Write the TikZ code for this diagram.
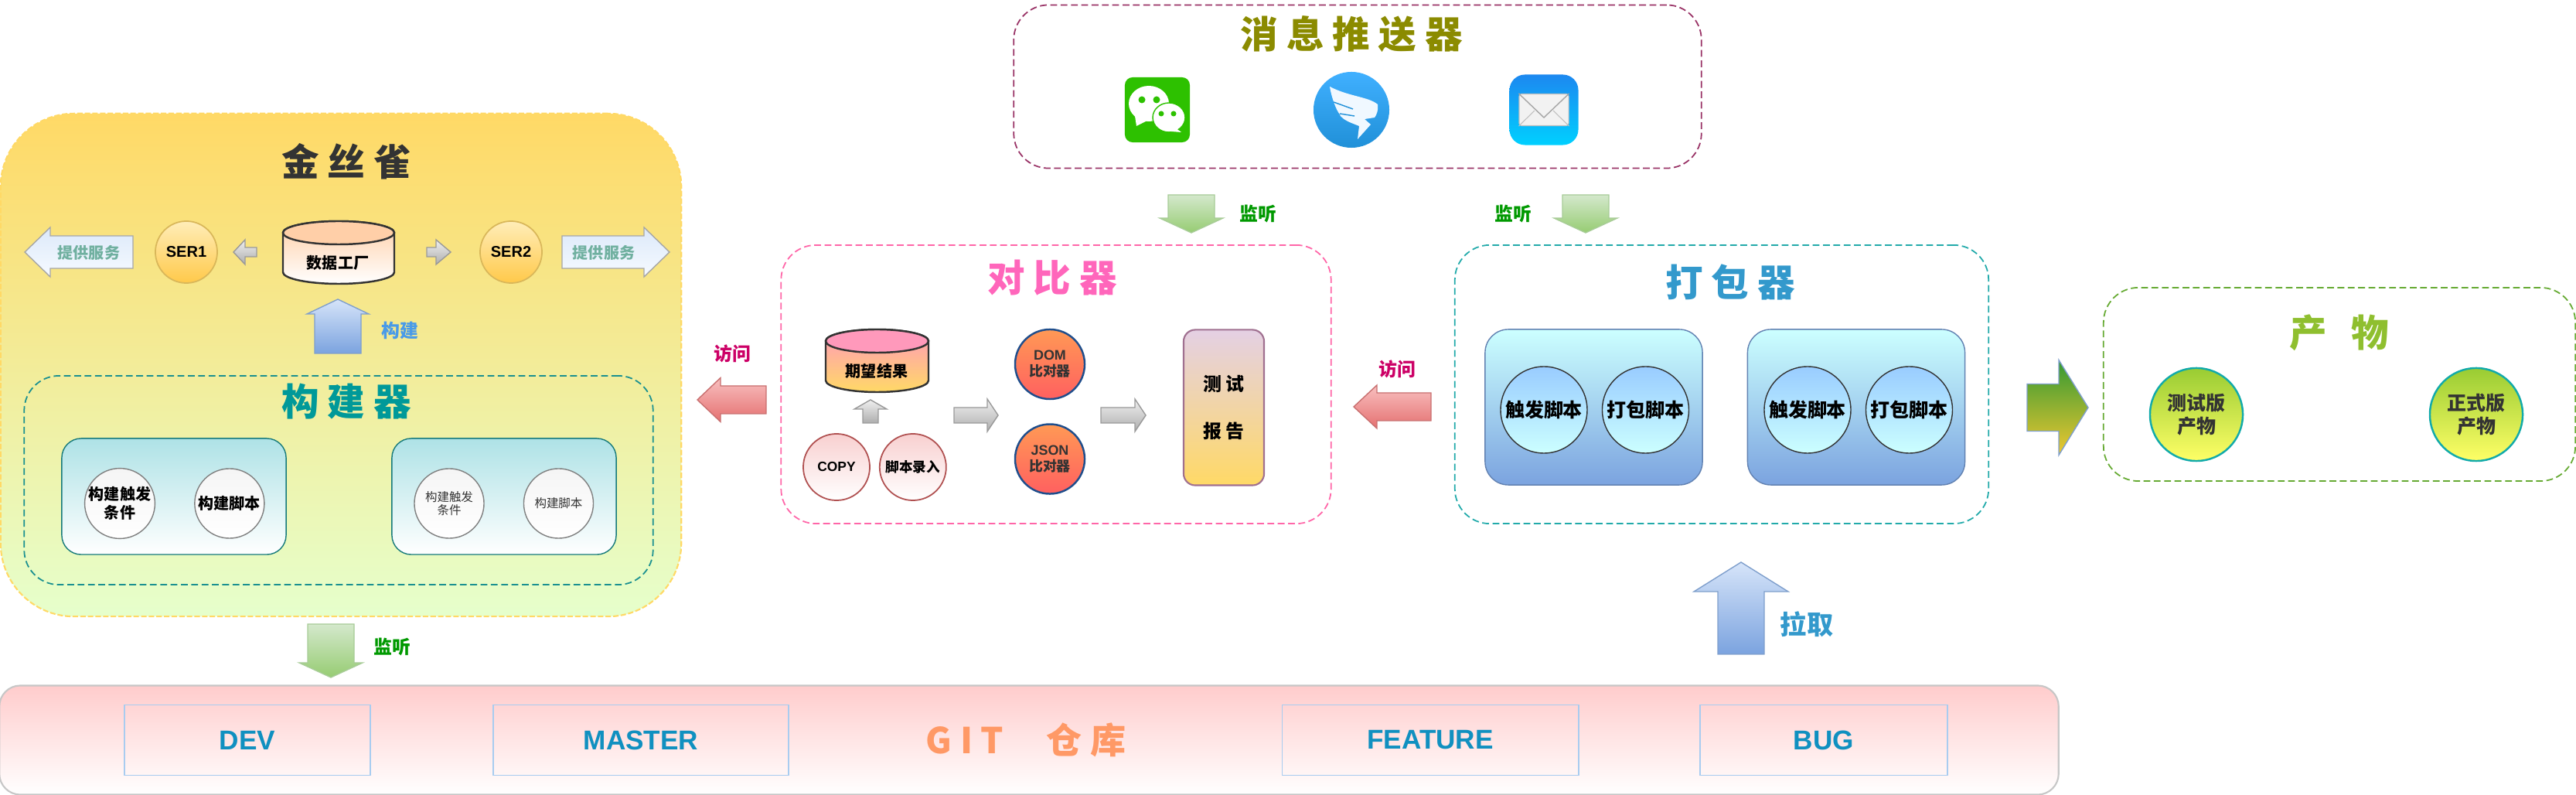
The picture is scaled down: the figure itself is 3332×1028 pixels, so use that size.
\documentclass[tikz,border=0pt]{standalone}
\usepackage{fontspec}
\setmainfont{Liberation Sans}
\newfontfamily\cjk{Noto Sans CJK SC}
\usepackage{xcolor}
\usetikzlibrary{positioning}
\definecolor{canaryLine}{HTML}{FFD966}
\definecolor{canaryTop}{HTML}{FFD966}
\definecolor{canaryBot}{HTML}{E6FFCC}
\definecolor{tealLine}{HTML}{1A9090}
\definecolor{tealText}{HTML}{009999}
\definecolor{pinkLine}{HTML}{FF66A8}
\definecolor{pinkText}{HTML}{FF66BB}
\definecolor{plumLine}{HTML}{993366}
\definecolor{oliveText}{HTML}{8B8B00}
\definecolor{packLine}{HTML}{22AAAA}
\definecolor{blueText}{HTML}{3399CC}
\definecolor{prodLine}{HTML}{66AA33}
\definecolor{prodText}{HTML}{8FBF2F}
\definecolor{monGreen}{HTML}{009900}
\definecolor{visitRed}{HTML}{CC0066}
\definecolor{branchText}{HTML}{1090C0}
\definecolor{gitOrange}{HTML}{FF9966}
\definecolor{textDark}{HTML}{333333}
\definecolor{svcText}{HTML}{70B0A0}
\definecolor{buildText}{HTML}{4A9BE8}
\definecolor{HTMLgold}{HTML}{D9B75A}
\definecolor{HTMLserA}{HTML}{FFEDB8}
\definecolor{HTMLserB}{HTML}{FFC94A}
\definecolor{HTMLbuildA}{HTML}{AEE2E6}
\definecolor{HTMLpackA}{HTML}{CCFFFF}
\definecolor{HTMLpackB}{HTML}{7BA3DF}
\definecolor{HTMLcirA}{HTML}{99CCFF}
\definecolor{HTMLbranch}{HTML}{A8CCF0}
\definecolor{HTMLcopy}{HTML}{B05050}
\definecolor{HTMLcopyA}{HTML}{F8D0D0}
\definecolor{HTMLcompare}{HTML}{1F4E8C}
\definecolor{HTMLorange}{HTML}{FF9955}
\definecolor{HTMLred}{HTML}{FF6060}
\definecolor{HTMLprod}{HTML}{11AAAA}
\definecolor{HTMLprodA}{HTML}{99CC33}
\definecolor{HTMLprodB}{HTML}{FFFF66}
\definecolor{HTMLgreenL}{HTML}{A8CC98}
\definecolor{HTMLgreenA}{HTML}{D4E8CC}
\definecolor{HTMLgreenB}{HTML}{96CC72}
\definecolor{HTMLblueL}{HTML}{7F9FCC}
\definecolor{HTMLblueA}{HTML}{D6E4F9}
\definecolor{HTMLblueB}{HTML}{7BA3DF}
\definecolor{HTMLredL}{HTML}{C87070}
\definecolor{HTMLredA}{HTML}{F8C0C0}
\definecolor{HTMLredB}{HTML}{E57070}
\definecolor{HTMLservA}{HTML}{DCE9FA}
\definecolor{HTMLservB}{HTML}{F6FAFF}
\definecolor{HTMLgitA}{HTML}{FFCCCC}
\definecolor{HTMLgreenBright}{HTML}{2DC100}
\definecolor{HTMLdingA}{HTML}{40B0FF}
\definecolor{HTMLdingB}{HTML}{2090D8}
\definecolor{HTMLwing}{HTML}{F0F8FF}
\definecolor{HTMLmailA}{HTML}{1C88F0}
\definecolor{HTMLmailB}{HTML}{00D0FF}
\definecolor{HTMLcapPink}{HTML}{FF99BB}
\definecolor{HTMLcapPeach}{HTML}{FFCFA8}
\definecolor{HTMLreport}{HTML}{A07090}
\definecolor{HTMLreportA}{HTML}{E4D0E4}
\definecolor{HTMLbigA}{HTML}{339933}
\definecolor{HTMLbigB}{HTML}{F0C830}
\tikzset{
  caja/.style={draw=#1, line width=.5pt, rounded corners=.45cm, dash pattern=on 2.5pt off 1.3pt},
  titulo/.style={font=\cjk\bfseries\fontsize{13.8}{16}\selectfont, text=#1, inner sep=0pt},
  etq/.style={font=\cjk\bfseries\fontsize{6.8}{8}\selectfont, text=#1, inner sep=0pt},
  texto/.style={font=\cjk\bfseries\fontsize{5.7}{6.8}\selectfont, text=black, inner sep=0pt, align=center},
  chico/.style={font=\cjk\fontsize{4.4}{4.95}\selectfont, text=textDark, inner sep=0pt, align=center},
  circulo/.style={circle, minimum size=#1, inner sep=0pt, align=center},
  serv/.style={circulo=.8cm, draw=HTMLgold, line width=.5pt, top color=HTMLserA, bottom color=HTMLserB, font=\bfseries\fontsize{5.7}{6.8}\selectfont},
  build/.style={circulo=.9cm, draw=gray, line width=.4pt, top color=black!4, bottom color=white},
  buildbox/.style={draw=tealLine!85!black, line width=.4pt, rounded corners=.25cm, minimum width=2.9cm, minimum height=1.5cm, top color=HTMLbuildA, bottom color=white},
  packbox/.style={draw=HTMLpackB!80!black, line width=.4pt, rounded corners=.3cm, minimum width=2.81cm, minimum height=2.01cm, top color=HTMLpackA, bottom color=HTMLpackB},
  packcir/.style={circulo=1.12cm, draw=textDark, line width=.4pt, top color=HTMLcirA, bottom color=HTMLpackA, font=\cjk\bfseries\fontsize{7.1}{8.4}\selectfont},
  rama/.style={draw=HTMLbranch, line width=.5pt, minimum height=.91cm, font=\bfseries\fontsize{10}{12}\selectfont, text=branchText},
  copia/.style={circulo=.86cm, draw=HTMLcopy, line width=.5pt, top color=HTMLcopyA, bottom color=white},
  compara/.style={circulo=.9cm, draw=HTMLcompare, line width=.7pt, top color=HTMLorange, bottom color=HTMLred, font=\cjk\bfseries\fontsize{5.1}{6}\selectfont, text=textDark},
  prod/.style={circulo=1.2cm, draw=HTMLprod, line width=.7pt, top color=HTMLprodA, bottom color=HTMLprodB, font=\cjk\bfseries\fontsize{7.1}{8.4}\selectfont, text=textDark},
  flverde/.style={draw=HTMLgreenL, line width=.4pt, top color=HTMLgreenA, bottom color=HTMLgreenB},
  flazul/.style={draw=HTMLblueL, line width=.4pt, top color=HTMLblueA, bottom color=HTMLblueB},
  flgris/.style={draw=gray!80, line width=.4pt, top color=black!6, bottom color=black!32},
  flroja/.style={draw=HTMLredL, line width=.4pt, top color=HTMLredA, bottom color=HTMLredB},
  flserv/.style={draw=black!35, line width=.4pt, top color=HTMLservA, bottom color=HTMLservB},
  flbig/.style={draw=HTMLblueL, line width=.4pt, top color=HTMLbigA, bottom color=HTMLbigB},
}
\newcommand{\flechaH}[7]{\draw[#1] (#2,{#5-#7}) -- (#3,{#5-#7}) -- (#3,{#5-#6}) -- (#4,#5) -- (#3,{#5+#6}) -- (#3,{#5+#7}) -- (#2,{#5+#7}) -- cycle;}
\newcommand{\flechaV}[7]{\draw[#1] ({#2-#7},#3) -- ({#2-#7},#4) -- ({#2-#6},#4) -- (#2,#5) -- ({#2+#6},#4) -- ({#2+#7},#4) -- ({#2+#7},#3) -- cycle;}
\newcommand{\cilindro}[6]{%
  \draw[draw=textDark, line width=.7pt, top color=#1, bottom color=#2] ({#3-#4},#5) -- ({#3-#4},#6) arc [start angle=180, end angle=0, x radius=#4, y radius=15] -- ({#3+#4},#5) arc [start angle=0, end angle=-180, x radius=#4, y radius=15] -- cycle;
  \draw[draw=textDark, line width=.7pt, fill=#1] (#3,#5) ellipse [x radius=#4, y radius=15];}
\begin{document}
\begin{tikzpicture}[x=.01cm,y=-.01cm]
\useasboundingbox (0,0) rectangle (3332,1028);
\node[draw=canaryLine, line width=.6pt, dash pattern=on 2pt off .8pt, rounded corners=.95cm, minimum width=8.8cm, minimum height=6.5cm, top color=canaryTop, bottom color=canaryBot] (canary) at (441,472) {};
\node[titulo=textDark] (canaryT) at (448,209) {金 丝 雀};
\flechaH{flserv}{172}{65}{32}{326}{32}{21}
\node[texto, text=svcText] (svcL) at (115,327) {提供服务};
\node[serv] (ser1) at (241,326) {SER1};
\flechaH{flgris}{332}{317}{302}{326}{16}{6}
\cilindro{HTMLcapPeach}{white}{438}{72}{301}{352}
\node[texto] (factory) at (437,340) {数据工厂};
\flechaH{flgris}{552}{564}{583}{326}{16}{6}
\node[serv] (ser2) at (661,326) {SER2};
\flechaH{flserv}{727}{833}{866}{326}{32}{21}
\node[texto, text=svcText] (svcR) at (781,327) {提供服务};
\flechaV{flazul}{437}{457}{406}{387}{40}{30}
\node[etq=buildText] (buildL) at (517,427) {构建};
\node[caja=tealLine, minimum width=8.13cm, minimum height=2.7cm] (builder) at (438,621) {};
\node[titulo=tealText] (builderT) at (448,519) {构 建 器};
\node[buildbox] (bbA) at (225,642) {};
\node[buildbox] (bbB) at (652,642) {};
\node[build, texto] (trigA) at (155,651) {构建触发\\条件};
\node[build, texto, right=5mm of trigA] (scrA) {构建脚本};
\node[build, chico] (trigB) at (581,651) {构建触发\\条件};
\node[build, chico, right=5mm of trigB] (scrB) {构建脚本};
\flechaV{flverde}{428}{807}{857}{876}{41}{30}
\node[etq=monGreen] (monA) at (507,837) {监听};
\node[draw=black!22, line width=.6pt, rounded corners=.27cm, minimum width=26.62cm, minimum height=1.41cm, top color=HTMLgitA, bottom color=white] (git) at (1331,957) {};
\node[rama, minimum width=3.18cm] (dev) at (320,957) {DEV};
\node[rama, minimum width=3.82cm] (master) at (829,957) {MASTER};
\node[titulo=gitOrange, font=\cjk\bfseries\fontsize{13.1}{15}\selectfont] (gitT) at (1327,957) {G I T\hspace{.55cm}仓 库};
\node[rama, minimum width=3.83cm] (feature) at (1850,957) {FEATURE};
\node[rama, minimum width=3.2cm] (bug) at (2359,957) {BUG};
\node[caja=plumLine, minimum width=8.89cm, minimum height=2.11cm] (notify) at (1756,112) {};
\node[titulo=oliveText] (notifyT) at (1748,44) {消 息 推 送 器};
\node[fill=HTMLgreenBright, rounded corners=.1cm, minimum width=.84cm, minimum height=.84cm] (wechat) at (1497,142) {};
\fill[white] (1486,134) ellipse [x radius=26, y radius=23];
\fill[white] (1468,150) -- (1484,156) -- (1470,163) -- cycle;
\draw[fill=white, draw=HTMLgreenBright, line width=.4pt] (1512,152) ellipse [x radius=21, y radius=19];
\fill[white] (1520,165) -- (1528,171) -- (1515,170) -- cycle;
\foreach \ex/\ey/\er in {1477/129/4.5,1496/129/4.5,1502/147/3.5,1518/147/3.5}
  \fill[HTMLgreenBright] (\ex,\ey) circle [radius=\er];
\node[circulo=.98cm, top color=HTMLdingA, bottom color=HTMLdingB] (ding) at (1748,142) {};
\fill[HTMLwing] (1720,112) .. controls (1745,125) and (1770,125) .. (1782,135) .. controls (1783,142) and (1781,148) .. (1778,152) -- (1765,154) -- (1773,161) -- (1756,180) -- (1758,163) -- (1748,159) .. controls (1738,155) and (1733,150) .. (1733,148) .. controls (1728,142) and (1722,125) .. cycle;
\draw[HTMLdingB, line width=.4pt] (1725,132) -- (1750,141);
\draw[HTMLdingB, line width=.4pt] (1733,147) -- (1752,150);
\node[rounded corners=.2cm, minimum width=.89cm, minimum height=.91cm, top color=HTMLmailA, bottom color=HTMLmailB] (mail) at (1997,142) {};
\node[draw=black!25, line width=.3pt, fill=black!5, rounded corners=.03cm, minimum width=.64cm, minimum height=.41cm] (mailEnv) at (mail.center) {};
\draw[black!35, line width=.4pt] (mailEnv.north west) -- (1997,152) -- (mailEnv.north east);
\draw[black!25, line width=.3pt] (mailEnv.south west) -- (1985,143);
\draw[black!25, line width=.3pt] (mailEnv.south east) -- (2009,143);
\flechaV{flverde}{1541}{252}{282}{301}{41}{30}
\node[etq=monGreen] (monB) at (1627,277) {监听};
\flechaV{flverde}{2051}{252}{282}{301}{41}{30}
\node[etq=monGreen] (monC) at (1957,277) {监听};
\node[caja=pinkLine, minimum width=7.11cm, minimum height=3.6cm] (cmp) at (1366,497) {};
\node[titulo=pinkText] (cmpT) at (1361,359) {对 比 器};
\flechaH{flroja}{991}{932}{902}{517}{28.5}{18}
\node[etq=visitRed] (visA) at (947,457) {访问};
\cilindro{HTMLcapPink}{canaryLine}{1134.5}{66.5}{441}{492}
\node[texto] (expect) at (1134,480) {期望结果};
\flechaV{flgris}{1126}{547}{529}{517}{21}{10}
\node[copia, font=\bfseries\fontsize{4.95}{6}\selectfont] (copy) at (1082,604) {COPY};
\node[copia, right=1.1mm of copy, font=\cjk\bfseries\fontsize{5}{6}\selectfont] (rec) {脚本录入};
\flechaH{flgris}{1234}{1277}{1291}{537}{21}{10}
\node[compara] (dom) at (1358,471) {{\rmfamily DOM}\\比对器};
\node[compara, below=3mm of dom] (json) {{\rmfamily JSON}\\比对器};
\flechaH{flgris}{1424}{1468}{1482}{537}{21}{10}
\node[draw=HTMLreport, line width=.6pt, rounded corners=.15cm, minimum width=1.04cm, minimum height=2.01cm, top color=HTMLreportA, bottom color=canaryLine] (report) at (1583,527) {};
\node[etq=black] (repA) at (1583,497) {测 试};
\node[etq=black] (repB) at (1583,557) {报 告};
\node[caja=packLine, minimum width=6.9cm, minimum height=3.6cm] (pack) at (2227,497) {};
\node[titulo=blueText] (packT) at (2238,365) {打 包 器};
\flechaH{flroja}{1851}{1781}{1751}{526}{28}{18}
\node[etq=visitRed] (visB) at (1807,477) {访问};
\node[packbox] (pbA) at (2061.5,526.5) {};
\node[packbox] (pbB) at (2401,526.5) {};
\node[packcir] (trgA) at (1997,530) {触发脚本};
\node[packcir, right=1.8mm of trgA] (pkgA) {打包脚本};
\node[packcir] (trgB) at (2338,530) {触发脚本};
\node[packcir, right=1.8mm of trgB] (pkgB) {打包脚本};
\flechaV{flazul}{2252}{846}{765}{727}{61}{30}
\node[etq=blueText, font=\cjk\bfseries\fontsize{9.7}{11}\selectfont] (pull) at (2337,807) {拉取};
\flechaH{flbig}{2622}{2663}{2701}{527}{61.5}{30.5}
\node[caja=prodLine, minimum width=6.1cm, minimum height=2.5cm] (prodBox) at (3026,497) {};
\node[titulo=prodText] (prodT) at (3026,430) {产\hspace{.32cm}物};
\node[prod] (prodA) at (2841,536) {测试版\\产物};
\node[prod] (prodB) at (3203,536) {正式版\\产物};
\end{tikzpicture}
\end{document}
